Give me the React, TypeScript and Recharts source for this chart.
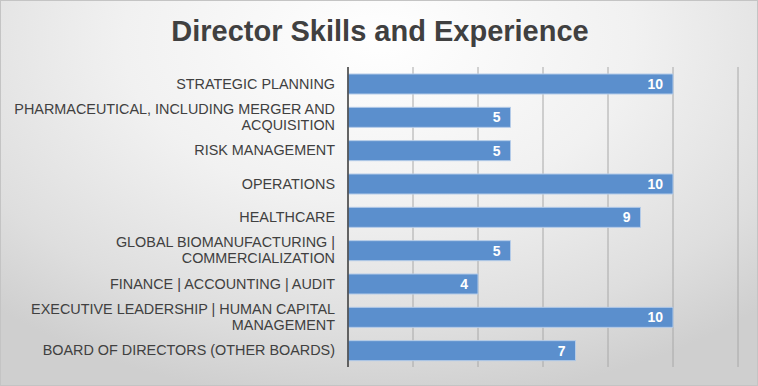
import { BarChart, Bar, XAxis, YAxis, CartesianGrid, LabelList } from 'recharts';

const categories = [
  'STRATEGIC PLANNING',
  'PHARMACEUTICAL, INCLUDING MERGER AND\nACQUISITION',
  'RISK MANAGEMENT',
  'OPERATIONS',
  'HEALTHCARE',
  'GLOBAL BIOMANUFACTURING |\nCOMMERCIALIZATION',
  'FINANCE | ACCOUNTING | AUDIT',
  'EXECUTIVE LEADERSHIP | HUMAN CAPITAL\nMANAGEMENT',
  'BOARD OF DIRECTORS (OTHER BOARDS)',
];

const directorCounts = [10, 5, 5, 10, 9, 5, 4, 10, 7];

const xTicks = [0, 2, 4, 6, 8, 10, 12];

const chartData = categories.map((name, i) => ({ name, value: directorCounts[i] }));

const FONT = "'Liberation Sans', Arial, sans-serif";

function CategoryTick({ x, y, payload }: any) {
  const lines = String(payload.value).split('\n');
  return (
    <text x={x} y={y} textAnchor="end" fill="#404040" fontSize={14.4} fontFamily={FONT}>
      {lines.map((line, i) => (
        <tspan key={i} x={x} dy={i === 0 ? 5 - (lines.length - 1) * 8 : 16}>
          {line}
        </tspan>
      ))}
    </text>
  );
}

export default function App() {
  return (
    <div
      style={{
        position: 'absolute',
        left: 0,
        top: 0,
        width: 758,
        height: 386,
        boxSizing: 'border-box',
        border: '1px solid #c4c4c4',
        background:
          'radial-gradient(ellipse 75% 95% at 50% 10%, #ffffff 0%, #f1f1f1 45%, #dedede 80%, #cfcfcf 100%)',
        fontFamily: FONT,
      }}
    >
      <div
        style={{
          position: 'absolute',
          top: 12,
          left: 0,
          width: 758,
          textAlign: 'center',
          fontSize: 29,
          fontWeight: 'bold',
          color: '#404040',
          lineHeight: '36px',
        }}
      >
        Director Skills and Experience
      </div>
      <div style={{ position: 'absolute', left: -1, top: -1 }}>
        <BarChart
          width={758}
          height={386}
          data={chartData}
          layout="vertical"
          margin={{ top: 67, right: 20, bottom: 19, left: 0 }}
          barSize={20}
        >
          <CartesianGrid horizontal={false} stroke="#a8a8a8" strokeWidth={1} />
          <XAxis type="number" domain={[0, 12]} ticks={xTicks} hide />
          <YAxis
            type="category"
            dataKey="name"
            width={348}
            axisLine={{ stroke: '#404040', strokeWidth: 1.5 }}
            tickLine={false}
            tickMargin={7}
            interval={0}
            tick={<CategoryTick />}
          />
          <Bar dataKey="value" fill="#5b8fcd" stroke="#b4cbe8" strokeWidth={1} isAnimationActive={false}>
            <LabelList
              dataKey="value"
              position="insideRight"
              offset={10}
              fill="#ffffff"
              fontSize={14}
              fontWeight="bold"
              fontFamily={FONT}
            />
          </Bar>
        </BarChart>
      </div>
    </div>
  );
}
